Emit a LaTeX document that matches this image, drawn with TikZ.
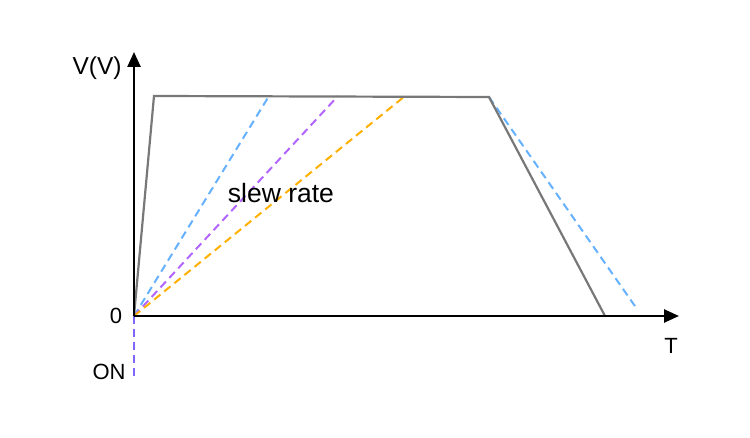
\documentclass[tikz,border=0pt]{standalone}
\usepackage{fontspec}
\setmainfont{Liberation Sans}
\usetikzlibrary{arrows.meta}
\definecolor{lblue}{RGB}{102,178,255}
\definecolor{lpurple}{RGB}{178,102,255}
\definecolor{lorange}{RGB}{255,176,0}
\definecolor{onblue}{RGB}{127,102,255}
\definecolor{curve}{RGB}{120,120,120}
\begin{document}
\begin{tikzpicture}[x=1pt,y=-1pt,
  axis/.style={draw=black,line width=2.5pt,-{Triangle[length=15pt,width=13pt]}},
  wave/.style={draw=curve,line width=2.2pt,line join=miter},
  dashline/.style={line width=2pt,dash pattern=on 8pt off 5pt},
  lbl/.style={font=\fontsize{22}{26}\selectfont,inner sep=0pt}]
\useasboundingbox (0,0) rectangle (750,438);
\fill[white] (0,0) rectangle (750,438);
\coordinate (O) at (134,316);
\coordinate (ytip) at (134,52);
\coordinate (xtip) at (679,316);
\coordinate (p1) at (154,96);
\coordinate (p2) at (489,97);
\coordinate (p3) at (605,316);
\coordinate (b1) at (269,96);
\coordinate (m1) at (338,96);
\coordinate (o1) at (405,96);
\coordinate (b2) at (637,309);
\coordinate (on) at (134,378);
% dashed slopes
\draw[dashline,lblue] (O) -- (b1);
\draw[dashline,lpurple] (O) -- (m1);
\draw[dashline,lorange] (O) -- (o1);
\draw[dashline,lblue] (p2) -- (b2);
\draw[dashline,onblue] (O) -- (on);
% waveform
\draw[wave] (O) -- (p1) -- (p2) -- (p3);
% axes
\draw[axis] (O) -- (ytip);
\draw[axis] (O) -- (xtip);
% labels
\node[lbl,font=\fontsize{24.5}{28}\selectfont] (vlab) at (97,68) {V(V)};
\node[lbl] (zero) at (116,316) {0};
\node[lbl] (onlab) at (109,372) {ON};
\node[lbl] (tlab) at (671,346) {T};
\node[lbl,font=\fontsize{26.5}{30}\selectfont] (slew) at (281,193) {slew rate};
\end{tikzpicture}
\end{document}
